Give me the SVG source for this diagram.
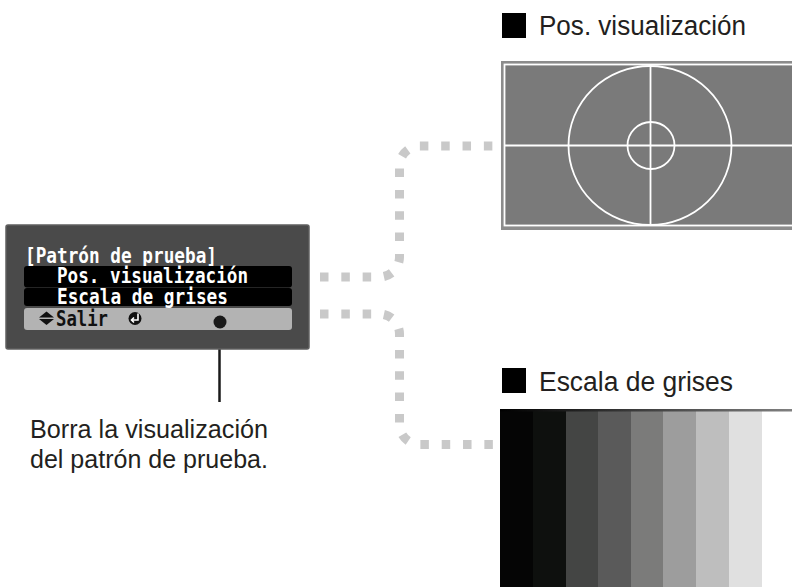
<svg xmlns="http://www.w3.org/2000/svg" width="792" height="587" viewBox="0 0 792 587">
  <style>
    .menu-title { font-family: "DejaVu Sans Mono", "Liberation Mono", monospace; font-size: 20.5px; font-weight: bold; fill: #ffffff; }
    .menu-item { font-family: "DejaVu Sans Mono", "Liberation Mono", monospace; font-size: 20.5px; font-weight: bold; fill: #ffffff; }
    .menu-foot { font-family: "DejaVu Sans Mono", "Liberation Mono", monospace; font-size: 20.5px; font-weight: bold; fill: #111111; }
    .heading { font-family: "Liberation Sans", Arial, Helvetica, sans-serif; font-size: 27px; fill: #231f20; }
    .note { font-family: "Liberation Sans", Arial, Helvetica, sans-serif; font-size: 25px; fill: #231f20; }
    .conn { fill: none; stroke: #c9c9c9; stroke-width: 9; stroke-dasharray: 8.5 12.83; }
    .white { fill: none; stroke: #ffffff; stroke-width: 1.8; }
  </style>
  <defs>
    <linearGradient id="topEdge" x1="0" y1="0" x2="1" y2="0">
      <stop offset="0" stop-color="#000000"/>
      <stop offset="1" stop-color="#808080"/>
    </linearGradient>
  </defs>
  <rect width="792" height="587" fill="#ffffff"/>

  <!-- connectors -->
  <g id="connectors">
    <path class="conn" d="M320,277 H379.5 A20,20 0 0 0 399.5,257 V166 A20,20 0 0 1 419.5,146 H493"/>
    <path class="conn" d="M320,314 H379.5 A20,20 0 0 1 399.5,334 V424.5 A20,20 0 0 0 419.5,444.5 H493"/>
    <line x1="219.5" y1="322" x2="219.5" y2="402" stroke="#1a1a1a" stroke-width="2.5"/>
  </g>

  <!-- menu node -->
  <g id="menu">
    <rect x="6" y="225" width="303" height="124" rx="2" fill="#4a4a4a" stroke="#5f5f5f" stroke-width="1.5"/>
    <text class="menu-title" x="25" y="263" textLength="192" lengthAdjust="spacingAndGlyphs">[Patrón de prueba]</text>
    <rect x="24" y="266" width="268" height="21.5" rx="3" fill="#000000"/>
    <rect x="24" y="288" width="268" height="18" rx="3" fill="#000000"/>
    <text class="menu-item" x="57" y="282.5" textLength="191" lengthAdjust="spacingAndGlyphs">Pos. visualización</text>
    <text class="menu-item" x="57" y="303.5" textLength="171" lengthAdjust="spacingAndGlyphs">Escala de grises</text>
    <rect x="24" y="308" width="268" height="22" rx="3" fill="#b3b3b3"/>
    <polygon points="46.5,311.5 39,317.5 54,317.5" fill="#111111"/>
    <polygon points="39,319 54,319 46.5,325" fill="#111111"/>
    <text class="menu-foot" x="56" y="325.5" textLength="52" lengthAdjust="spacingAndGlyphs">Salir</text>
    <circle cx="135" cy="318.5" r="6.5" fill="#111111"/>
    <path d="M138,313.5 V320 H131.5 M134,317.5 L131.5,320 L134,322.5" fill="none" stroke="#ffffff" stroke-width="1.6"/>
    <circle cx="220" cy="322" r="6.5" fill="#1a1a1a"/>
  </g>

  <!-- note -->
  <g id="note">
    <text class="note" x="30" y="438" textLength="238" lengthAdjust="spacingAndGlyphs">Borra la visualización</text>
    <text class="note" x="30" y="468" textLength="238" lengthAdjust="spacingAndGlyphs">del patrón de prueba.</text>
  </g>

  <!-- Pos. visualización -->
  <g id="pos-visualizacion">
    <rect x="502" y="13" width="24" height="25" fill="#000000"/>
    <text class="heading" x="539" y="35" textLength="207" lengthAdjust="spacingAndGlyphs">Pos. visualización</text>
    <rect x="501" y="61" width="300" height="169" fill="#8c8c8c"/>
    <rect x="504.5" y="64.5" width="300" height="161" fill="#7a7a7a" stroke="#ffffff" stroke-width="1.8"/>
    <line class="white" x1="504.5" y1="145.5" x2="800" y2="145.5"/>
    <line class="white" x1="650.5" y1="64.5" x2="650.5" y2="225.5"/>
    <ellipse class="white" cx="650" cy="145.5" rx="81.5" ry="79.5"/>
    <circle class="white" cx="651" cy="145.5" r="23.5"/>
  </g>

  <!-- Escala de grises -->
  <g id="escala-de-grises">
    <rect x="502" y="368" width="24" height="25" fill="#000000"/>
    <text class="heading" x="539" y="391" textLength="194" lengthAdjust="spacingAndGlyphs">Escala de grises</text>
    <rect x="500" y="409" width="33" height="178" fill="#050505"/>
    <rect x="533" y="409" width="33" height="178" fill="#0e100e"/>
    <rect x="566" y="409" width="32" height="178" fill="#444544"/>
    <rect x="598" y="409" width="33" height="178" fill="#5a5a5a"/>
    <rect x="631" y="409" width="32" height="178" fill="#7b7b7a"/>
    <rect x="663" y="409" width="33" height="178" fill="#9d9d9d"/>
    <rect x="696" y="409" width="33" height="178" fill="#bebebe"/>
    <rect x="729" y="409" width="33" height="178" fill="#e0e0e0"/>
    <rect x="762" y="409" width="30" height="178" fill="#ffffff"/>
    <rect x="500" y="409" width="292" height="2.5" fill="url(#topEdge)"/>
  </g>
</svg>
